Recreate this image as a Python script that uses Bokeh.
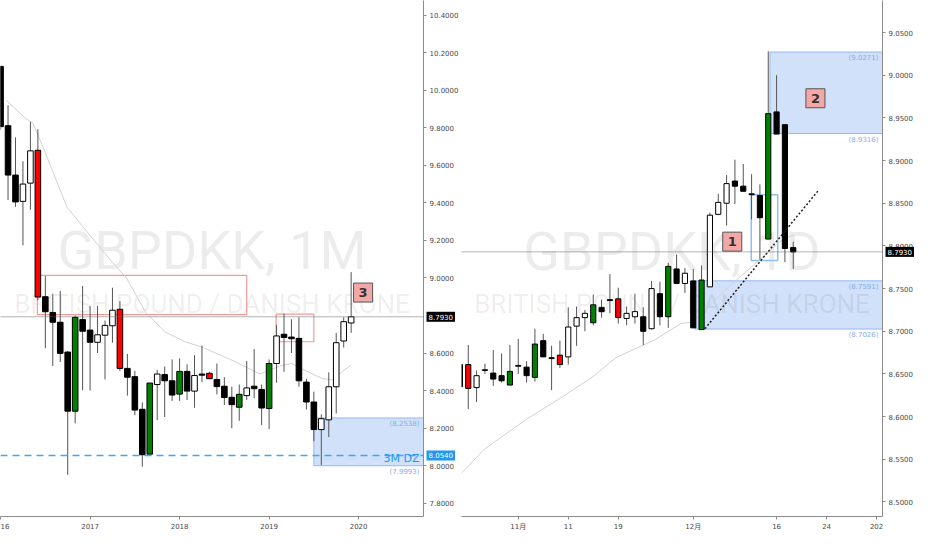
from bokeh.plotting import figure
from bokeh.models import Range1d, FixedTicker, Span, Label, PrintfTickFormatter
from bokeh.layouts import row
from bokeh.core.properties import value
from bokeh.embed import file_html
from bokeh.resources import INLINE

# ---- monthly GBPDKK, bar 0 = Jan 2016 ... bar 47 = Dec 2019 ----
m_open = [10.127, 9.811, 9.548, 9.408, 9.505, 9.680, 8.900, 8.816, 8.764, 8.605,
          8.290, 8.778, 8.722, 8.657, 8.695, 8.745, 8.833, 8.518, 8.474, 8.300,
          8.061, 8.432, 8.485, 8.452, 8.381, 8.502, 8.397, 8.488, 8.492, 8.459,
          8.423, 8.364, 8.311, 8.373, 8.423, 8.406, 8.304, 8.544, 8.700, 8.685,
          8.678, 8.445, 8.339, 8.192, 8.244, 8.420, 8.664, 8.760]
m_high = [10.130, 9.920, 9.749, 9.622, 9.832, 9.792, 9.010, 8.916, 8.931, 8.610,
          8.800, 8.957, 8.850, 8.850, 8.773, 8.948, 8.876, 8.595, 8.505, 8.337,
          8.440, 8.510, 8.528, 8.566, 8.571, 8.540, 8.588, 8.640, 8.500, 8.544,
          8.471, 8.420, 8.432, 8.557, 8.621, 8.432, 8.566, 8.750, 8.810, 8.780,
          8.790, 8.463, 8.394, 8.273, 8.497, 8.707, 8.790, 9.031]
m_low = [9.790, 9.415, 9.379, 9.174, 9.363, 8.880, 8.626, 8.531, 8.552, 7.951,
         8.225, 8.402, 8.400, 8.600, 8.459, 8.655, 8.505, 8.373, 8.268, 7.994,
         8.060, 8.242, 8.259, 8.345, 8.345, 8.350, 8.308, 8.445, 8.463, 8.380,
         8.323, 8.199, 8.239, 8.350, 8.359, 8.216, 8.195, 8.442, 8.500, 8.600,
         8.420, 8.299, 8.130, 8.003, 8.152, 8.278, 8.629, 8.707]
m_close = [9.806, 9.548, 9.405, 9.500, 9.677, 8.898, 8.820, 8.764, 8.598, 8.290,
           8.790, 8.716, 8.657, 8.697, 8.747, 8.828, 8.518, 8.471, 8.296, 8.058,
           8.440, 8.488, 8.452, 8.376, 8.502, 8.397, 8.480, 8.482, 8.463, 8.421,
           8.363, 8.325, 8.380, 8.414, 8.410, 8.307, 8.544, 8.691, 8.683, 8.676,
           8.452, 8.339, 8.192, 8.250, 8.420, 8.655, 8.767, 8.793]
m_marked = [5, 10, 16, 20, 24, 28, 32, 36]

m_ma_x = [0.75, 3.4, 4.3, 5.8, 8.9, 11.0, 15.0, 16.8, 19.5, 22.1, 24.8, 26.9,
          30.8, 34.8, 37.4, 39.0, 41.0, 43.2, 44.5, 45.9, 47.0]
m_ma_y = [9.946, 9.848, 9.827, 9.687, 9.377, 9.274, 9.083, 9.005, 8.814, 8.711,
          8.659, 8.633, 8.566, 8.488, 8.530, 8.545, 8.504, 8.463, 8.457, 8.504, 8.535]

m_xticks = [0, 12, 24, 36, 48]
m_xlabels = ["16", "2017", "2018", "2019", "2020"]
m_yticks = [7.8, 8.0, 8.2, 8.4, 8.6, 9.0, 9.2, 9.4, 9.6, 9.8, 10.0, 10.2, 10.4]

m_red_left = [4.93, 36.94]
m_red_right = [33.0, 42.0]
m_red_top = [9.014, 8.807]
m_red_bottom = [8.804, 8.660]

m_zone_left = [42.0]
m_zone_top = [8.2538]
m_zone_bottom = [7.9993]

m_tag_text = ["3"]
m_tag_x = [48.6]
m_tag_y = [8.922]

# ---- daily GBPDKK, bar 0 = 23 Oct 2019 ... bar 40 = 18 Dec 2019 ----
d_open = [8.635, 8.661, 8.634, 8.654, 8.651, 8.648, 8.637, 8.659, 8.658, 8.646,
          8.689, 8.669, 8.672, 8.670, 8.706, 8.716, 8.710, 8.728, 8.737, 8.738,
          8.715, 8.717, 8.717, 8.703, 8.744, 8.717, 8.773, 8.756, 8.759, 8.702,
          8.752, 8.837, 8.850, 8.876, 8.870, 8.861, 8.859, 8.808, 8.957, 8.942, 8.798]
d_high = [8.665, 8.684, 8.654, 8.662, 8.678, 8.674, 8.684, 8.691, 8.665, 8.703,
          8.697, 8.683, 8.689, 8.728, 8.729, 8.725, 8.743, 8.737, 8.767, 8.751,
          8.729, 8.744, 8.728, 8.759, 8.758, 8.780, 8.790, 8.774, 8.773, 8.777,
          8.839, 8.861, 8.883, 8.901, 8.896, 8.884, 8.872, 9.028, 9.000, 8.942, 8.805]
d_low = [8.630, 8.609, 8.617, 8.650, 8.636, 8.640, 8.637, 8.650, 8.640, 8.641,
         8.670, 8.631, 8.657, 8.661, 8.683, 8.700, 8.707, 8.716, 8.721, 8.709,
         8.707, 8.709, 8.684, 8.702, 8.707, 8.704, 8.756, 8.745, 8.704, 8.702,
         8.752, 8.836, 8.824, 8.849, 8.864, 8.831, 8.784, 8.808, 8.931, 8.781, 8.773]
d_close = [8.661, 8.633, 8.648, 8.655, 8.644, 8.642, 8.653, 8.660, 8.648, 8.685,
           8.670, 8.668, 8.661, 8.705, 8.716, 8.721, 8.731, 8.723, 8.736, 8.716,
           8.721, 8.723, 8.700, 8.750, 8.717, 8.776, 8.756, 8.768, 8.704, 8.760,
           8.836, 8.851, 8.873, 8.870, 8.864, 8.860, 8.833, 8.955, 8.931, 8.797, 8.793]
d_marked = [1, 6, 9, 12, 16, 19, 25, 29, 37]

d_ma_x = [0.1, 2.95, 8.0, 12.1, 16.0, 18.7, 21.8, 23.4, 26.5, 28.0, 31.9, 38.9, 40.1]
d_ma_y = [8.533, 8.562, 8.597, 8.622, 8.647, 8.669, 8.683, 8.690, 8.709, 8.711,
          8.749, 8.809, 8.8125]

d_xticks = [7, 13, 19, 28, 38, 44, 50]
d_xlabels = ["11月", "11", "19", "12月", "16", "24", "202"]
d_yticks = [8.50, 8.55, 8.60, 8.65, 8.70, 8.75, 8.80, 8.85, 8.90, 8.95, 9.00, 9.05]

d_zone_left = [37.2, 28.2]
d_zone_top = [9.0271, 8.7591]
d_zone_bottom = [8.9316, 8.7026]

d_box_left = [34.96]
d_box_right = [38.14]
d_box_top = [8.860]
d_box_bottom = [8.783]

d_trend_x = [29.4, 43.1]
d_trend_y = [8.703, 8.866]

d_tag_text = ["1", "2"]
d_tag_x = [32.68, 42.66]
d_tag_y = [8.805, 8.973]

last_price = 8.7930
demand_level = 8.0540

AXIS_FONT = "DejaVu Sans"
MARK = "Roboto"
H = 534


def candle_colors(opens, closes, marked):
    out = []
    for i, (o, c) in enumerate(zip(opens, closes)):
        up = c >= o
        if i in marked:
            out.append("#008000" if up else "#ff0000")
        else:
            out.append("#ffffff" if up else "#000000")
    return out


def panel(width, border_right, xr, yr, yticks, xticks, xlabels):
    p = figure(width=width, height=H, x_range=Range1d(*xr), y_range=Range1d(*yr),
               y_axis_location="right", output_backend="svg", toolbar_location=None,
               min_border_left=0, min_border_top=0, min_border_bottom=18,
               min_border_right=border_right)
    p.xgrid.visible = False
    p.ygrid.visible = False
    p.outline_line_color = None
    p.background_fill_color = "white"
    p.border_fill_color = "white"
    for ax in (p.xaxis[0], p.yaxis[0]):
        ax.axis_line_color = "#8c8c8c"
        ax.major_tick_line_color = "#8c8c8c"
        ax.minor_tick_line_color = None
        ax.major_tick_in = 0
        ax.major_tick_out = 3
        ax.major_label_text_color = "#4a4a4a"
        ax.major_label_text_font_size = "7px"
        ax.major_label_standoff = 3
    p.xaxis[0].major_label_text_font = "DejaVu Sans, Noto Sans CJK JP"
    p.yaxis[0].major_label_text_font = AXIS_FONT
    p.yaxis[0].ticker = FixedTicker(ticks=yticks)
    p.yaxis[0].formatter = PrintfTickFormatter(format="%.4f")
    p.xaxis[0].ticker = FixedTicker(ticks=xticks)
    p.xaxis[0].major_label_overrides = {t: s for t, s in zip(xticks, xlabels)}
    return p


def watermark(p, xr, y_big, y_small, title):
    xm = (xr[0] + xr[1]) / 2
    p.text(x=[xm], y=[y_big], text=[title], text_align="center",
           text_baseline="alphabetic", text_font=value(MARK), text_font_size="54px",
           text_color="#000000", text_alpha=0.075)
    p.text(x=[xm], y=[y_small], text=["BRITISH POUND / DANISH KRONE"], text_align="center",
           text_baseline="alphabetic", text_font=value(MARK), text_font_size="26px",
           text_color="#000000", text_alpha=0.075)


def candles(p, opens, highs, lows, closes, marked, body):
    idx = list(range(len(opens)))
    p.segment(x0=idx, y0=highs, x1=idx, y1=lows, line_color="#555555", line_width=1)
    p.vbar(x=idx, width=body, top=[max(o, c) for o, c in zip(opens, closes)],
           bottom=[min(o, c) for o, c in zip(opens, closes)],
           fill_color=candle_colors(opens, closes, marked), line_color="#000000",
           line_width=1)


def zone_labels(p, x_end, tops, bottoms):
    for t, b in zip(tops, bottoms):
        for v in (t, b):
            p.add_layout(Label(x=x_end, y=v, text="(%.4f)" % v, x_offset=-4, y_offset=-2,
                               text_align="right", text_baseline="top",
                               text_font=AXIS_FONT, text_font_size="7px",
                               text_color="#86aee8"))


def axis_tag(p, x_end, y, fill):
    # price tag on the price scale; overlay level so it is not clipped to the frame
    p.text(x=[x_end], y=[y], text=["%.4f" % y], x_offset=3, text_align="left",
           text_baseline="middle", text_font=value(AXIS_FONT), text_font_size="7px",
           text_color="white", background_fill_color=fill, padding=2, level="overlay")


def number_tags(p, xs, ys, texts):
    for x, y, t in zip(xs, ys, texts):
        p.add_layout(Label(x=x, y=y, text=t, text_align="center", text_baseline="middle",
                           text_font="DejaVu Sans", text_font_style="bold",
                           text_font_size="13px", text_color="#333333",
                           background_fill_color="#f4a7a7", border_line_color="#555555",
                           border_line_width=1, padding=5))


# ---------------- left: monthly ----------------
m_xr = (-0.01, 56.7)
m_yr = (7.729, 10.478)
left = panel(461, 38, m_xr, m_yr, m_yticks, m_xticks, m_xlabels)

left.quad(left=m_zone_left, right=[m_xr[1] + 5] * len(m_zone_left), top=m_zone_top,
          bottom=m_zone_bottom, fill_color="#d0e1f9", line_color="#93b9ee", line_width=1)
watermark(left, m_xr, 9.145, 8.86, "GBPDKK, 1M")
left.quad(left=m_red_left, right=m_red_right, top=m_red_top, bottom=m_red_bottom,
          fill_alpha=0, line_color="#f29a9a", line_width=1.2)
left.line(m_ma_x, m_ma_y, line_color="#d2d2d2", line_width=1)
left.add_layout(Span(location=demand_level, dimension="width", line_color="#42a5f5",
                     line_width=1.5, line_dash="7 5"))
left.add_layout(Span(location=last_price, dimension="width", line_color="#666666",
                     line_width=1, line_dash="1 1"))
candles(left, m_open, m_high, m_low, m_close, m_marked, 0.75)
zone_labels(left, m_xr[1], m_zone_top, m_zone_bottom)
left.add_layout(Label(x=m_xr[1], y=m_zone_bottom[0], text="3M DZ", x_offset=-4, y_offset=1,
                      text_align="right", text_baseline="bottom", text_font=AXIS_FONT,
                      text_font_size="11px", text_color="#2196f3"))
number_tags(left, m_tag_x, m_tag_y, m_tag_text)
axis_tag(left, m_xr[1], last_price, "#000000")
axis_tag(left, m_xr[1], demand_level, "#2196f3")

# ---------------- right: daily ----------------
d_xr = (0.19, 50.71)
d_yr = (8.483, 9.0875)
right = panel(455, 34, d_xr, d_yr, d_yticks, d_xticks, d_xlabels)

right.quad(left=d_zone_left, right=[d_xr[1] + 5] * len(d_zone_left), top=d_zone_top,
           bottom=d_zone_bottom, fill_color="#d0e1f9", line_color="#93b9ee", line_width=1)
watermark(right, d_xr, 8.794, 8.732, "GBPDKK, 1D")
right.quad(left=d_box_left, right=d_box_right, top=d_box_top, bottom=d_box_bottom,
           fill_alpha=0, line_color="#8fc0f2", line_width=1.5)
right.line(d_ma_x, d_ma_y, line_color="#d2d2d2", line_width=1)
right.add_layout(Span(location=last_price, dimension="width", line_color="#666666",
                      line_width=1, line_dash="1 1"))
candles(right, d_open, d_high, d_low, d_close, d_marked, 0.62)
right.line(d_trend_x, d_trend_y, line_color="#222222", line_width=1.5, line_dash="2 2")
zone_labels(right, d_xr[1], d_zone_top, d_zone_bottom)
number_tags(right, d_tag_x, d_tag_y, d_tag_text)
axis_tag(right, d_xr[1], last_price, "#000000")

layout = row(left, right, spacing=0)
open("out.html", "w").write(file_html(layout, INLINE))
